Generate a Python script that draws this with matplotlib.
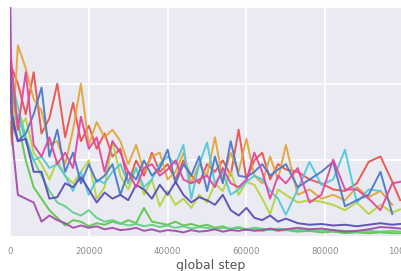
import numpy as np
import matplotlib
matplotlib.use('Agg')
import matplotlib.pyplot as plt

# global steps shared by all runs
steps = [0, 500] + list(range(2000, 70001, 2000)) + [73000, 76000, 79000, 82000, 85000,
                                                     88000, 91000, 94000, 97000, 99000]

# one curve per run
red = [1.8, 2.2,
       2.0, 1.6, 2.15, 1.35, 1.55, 2.0, 1.30, 1.75, 1.25, 1.45,
       1.15, 1.35, 1.05, 1.15, 0.70, 1.00, 0.80, 1.10, 0.85, 0.95,
       0.75, 1.00, 0.80, 0.70, 0.95, 0.85, 1.00, 0.80, 1.40, 0.75,
       1.00, 1.10, 0.75, 0.95, 0.88,
       0.85, 0.75, 0.70, 0.62, 0.60, 0.70, 0.98, 1.05, 0.72, 0.48]
orange = [1.5, 1.2,
          2.5, 2.2, 1.80, 1.65, 1.20, 1.25, 0.95, 1.40, 2.0, 1.20,
          1.50, 1.30, 1.40, 1.25, 0.95, 1.20, 0.85, 1.05, 1.10, 0.75,
          0.85, 1.10, 0.70, 0.95, 0.80, 1.30, 0.75, 1.10, 0.85, 1.28,
          0.80, 0.70, 1.05, 0.75, 1.20,
          0.55, 0.62, 0.50, 0.55, 0.48, 0.65, 0.52, 0.60, 0.42, None]
yellowgreen = [2.0, 1.7,
               1.4, 1.55, 1.10, 0.95, 0.75, 1.0, 0.80, 0.70, 0.85, 1.00,
               0.50, 0.65, 1.25, 0.80, 0.62, 0.90, 0.55, 0.75, 0.40, 0.60,
               0.42, 0.50, 0.38, 0.55, 0.45, 0.70, 0.60, 0.85, 0.55, 0.72,
               0.68, 0.50, 0.30, 0.62, 0.55,
               0.45, 0.48, 0.46, 0.42, 0.35, 0.45, 0.30, 0.42, 0.32, 0.36]
green = [2.2, 1.9,
         1.5, 1.0, 0.65, 0.5, 0.35, 0.25, 0.15, 0.22, 0.20, 0.14,
         0.18, 0.16, 0.20, 0.17, 0.22, 0.18, 0.38, 0.20, 0.18, 0.16,
         0.20, 0.15, 0.17, 0.14, 0.16, 0.12, 0.14, 0.10, 0.12, 0.09,
         0.11, 0.08, 0.10, 0.08, 0.09,
         0.07, 0.08, 0.06, 0.07, 0.05, 0.06, 0.05, 0.06, 0.05, 0.05]
mint = [2.3, 2.0,
        1.7, 1.3, 1.0, 0.8, 0.6, 0.45, 0.40, 0.32, 0.28, 0.35,
        0.25, 0.20, 0.22, 0.18, 0.15, 0.17, 0.14, 0.16, 0.13, 0.15,
        0.12, 0.14, 0.11, 0.13, 0.12, 0.10, 0.12, 0.11, 0.13, 0.10,
        0.12, 0.11, 0.09, 0.11, 0.10,
        0.09, 0.10, 0.08, 0.09, 0.08, 0.07, 0.08, 0.07, 0.08, 0.07]
cyan = [2.1, 1.5,
        1.6, 1.25, 1.0, 1.05, 0.90, 0.95, 0.80, 0.60, 0.85, 0.55,
        0.75, 0.70, 0.85, 0.95, 0.70, 0.90, 0.65, 0.75, 0.95, 1.05,
        0.95, 1.20, 0.50, 0.95, 1.23, 0.70, 0.85, 0.55, 0.62, 0.72,
        0.80, 0.75, 0.60, 0.50, 0.29,
        0.62, 0.98, 0.68, 0.75, 1.14, 0.45, 0.62, 0.60, None, None]
blue = [1.9, 1.5,
        1.25, 1.35, 1.60, 1.95, 1.05, 1.40, 0.85, 1.10, 0.70, 0.95,
        0.72, 0.80, 0.95, 0.55, 0.85, 0.75, 1.00, 0.80, 0.90, 1.14,
        0.70, 0.95, 0.80, 1.05, 0.60, 1.05, 0.70, 1.25, 0.80, 0.78,
        0.85, 0.95, 0.80, 0.88, 0.95,
        0.65, 0.75, 0.85, 0.98, 0.40, 0.48, 0.55, 0.85, 0.30, None]
indigo = [2.4, 1.6,
          1.25, 1.28, 0.85, 0.85, 0.50, 0.52, 0.70, 0.65, 0.78, 0.62,
          0.45, 0.58, 0.50, 0.55, 0.48, 0.68, 0.62, 0.50, 0.68, 0.55,
          0.72, 0.55, 0.45, 0.52, 0.48, 0.42, 0.55, 0.35, 0.28, 0.38,
          0.25, 0.22, 0.28, 0.20, 0.24,
          0.18, 0.16, 0.17, 0.15, 0.16, 0.14, 0.16, 0.18, 0.16, 0.17]
purple = [3.4, 1.3,
          0.55, 0.50, 0.45, 0.20, 0.28, 0.22, 0.18, 0.12, 0.15, 0.12,
          0.14, 0.10, 0.12, 0.09, 0.10, 0.12, 0.08, 0.10, 0.07, 0.09,
          0.08, 0.06, 0.09, 0.07, 0.08, 0.10, 0.07, 0.09, 0.08, 0.10,
          0.08, 0.09, 0.11, 0.09, 0.10,
          0.12, 0.10, 0.11, 0.09, 0.07, 0.08, 0.10, 0.13, 0.12, 0.11]
pink = [2.5, 2.2,
        1.40, 2.15, 1.20, 1.05, 1.30, 0.95, 1.10, 0.90, 1.57, 1.15,
        1.30, 0.85, 1.25, 1.10, 0.85, 0.65, 0.90, 0.95, 0.80, 0.88,
        1.00, 0.75, 0.70, 0.75, 0.80, 0.65, 0.90, 0.70, 0.65, 0.75,
        1.10, 0.85, 0.50, 0.80, 0.70,
        0.90, 0.45, 0.55, 1.01, 0.62, 0.62, 0.50, 0.35, 0.70, 0.72]

runs = [red, orange, yellowgreen, green, mint, cyan, blue, indigo, purple, pink]
colors = ['#e8544b', '#e3a53a', '#b5d43c', '#5ec54b', '#5fd284',
          '#4fcadb', '#4a79c9', '#5b4db5', '#a34ca9', '#e2479d']

fig = plt.figure(figsize=(4.01, 2.71), dpi=100)
# axes runs past the right edge, like the cropped original
ax = fig.add_axes([10 / 401, 34 / 271, 402 / 401, 230 / 271])
ax.set_facecolor('#eaeaf2')
for s in ax.spines.values():
    s.set_visible(False)

for vals, c in zip(runs, colors):
    ax.plot(steps, np.array(vals, dtype=float), color=c, lw=1.4, alpha=0.95)

ax.set_xlim(0, 102000)
ax.set_ylim(0, 3)
ax.set_xticks([0, 20000, 40000, 60000, 80000, 100000])
ax.set_yticks([0, 1, 2, 3])
ax.set_yticklabels([])
ax.grid(True, color='white', lw=1.3)
ax.set_axisbelow(True)
ax.tick_params(axis='both', length=0, pad=7, labelsize=6.2, labelcolor='#8a8a8a')
ax.set_xlabel('global step', fontsize=9, color='#555555', labelpad=2)

plt.savefig('out.png', dpi=100)
